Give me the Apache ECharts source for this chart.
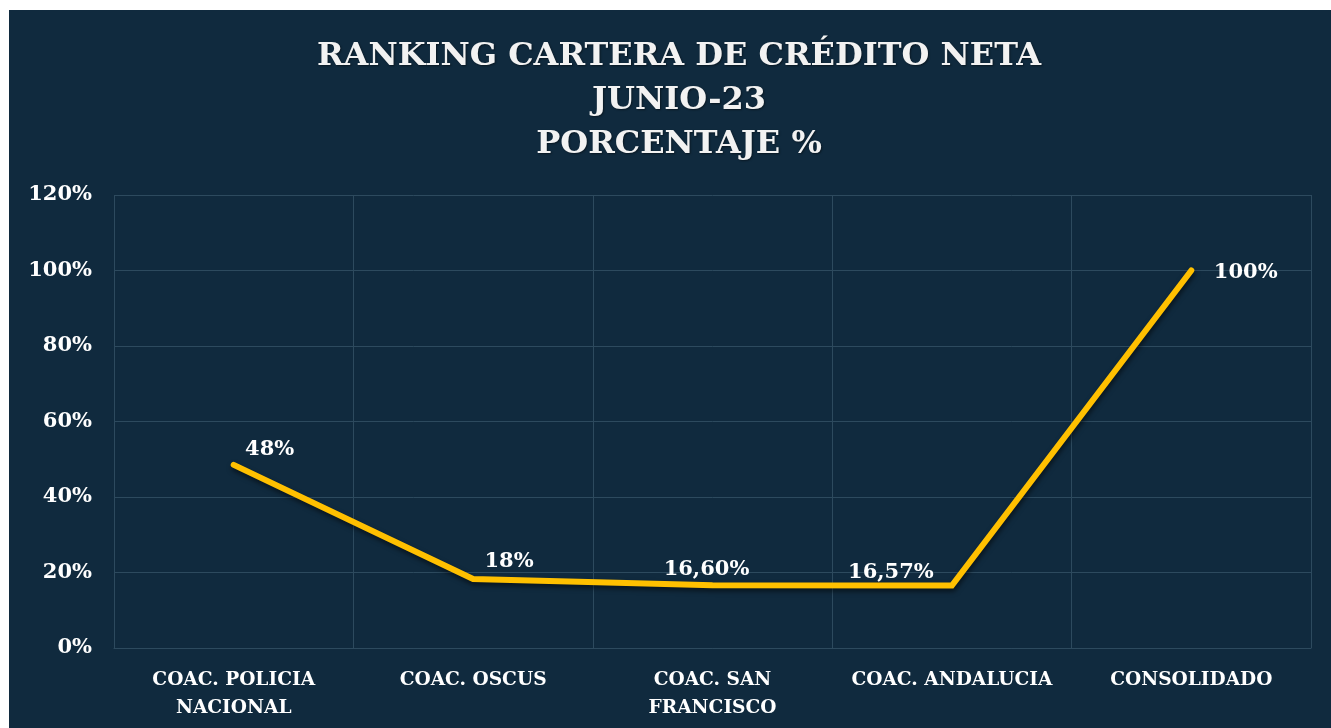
<!DOCTYPE html>
<html><head><meta charset="utf-8">
<script src="https://cdn.jsdelivr.net/npm/echarts@6/dist/echarts.min.js"></script>
<style>
html,body{margin:0;padding:0;background:#ffffff;width:1331px;height:728px;overflow:hidden;}
#c{position:absolute;left:9px;top:10px;width:1322px;height:718px;}
</style></head>
<body><div id="c"></div>
<script>
const categories = ["COAC. POLICIA\nNACIONAL", "COAC. OSCUS", "COAC. SAN\nFRANCISCO", "COAC. ANDALUCIA", "CONSOLIDADO"];
const values = [48.5, 18.3, 16.60, 16.57, 100];
const valueLabels = ["48%", "18%", "16,60%", "16,57%", "100%"];
const titleText = "RANKING CARTERA DE CRÉDITO NETA\nJUNIO-23\nPORCENTAJE %";

const FONT = "DejaVu Serif";
const labelCfg = [
  {position:'top', offset:[36,1]},
  {position:'top', offset:[36,-1]},
  {position:'top', offset:[-6,0]},
  {position:'top', offset:[-61,3]},
  {position:'right', distance:22, offset:[0,2]}
];
const chart = echarts.init(document.getElementById('c'));
chart.setOption({
  backgroundColor:'#102a3e',
  animation:false,
  title:{
    text:titleText, left:665, top:20, textAlign:'center',
    textStyle:{color:'#f2f2f2', fontFamily:FONT, fontWeight:'bold', fontSize:32, lineHeight:44,
      textShadowColor:'rgba(0,0,0,0.45)', textShadowBlur:2, textShadowOffsetX:1, textShadowOffsetY:1}
  },
  grid:{left:105, right:20, top:185, bottom:80, containLabel:false},
  xAxis:{
    type:'category', data:categories, boundaryGap:true,
    axisLine:{show:true, lineStyle:{color:'#2d4a5e', width:1}},
    axisTick:{show:false},
    splitLine:{show:true, lineStyle:{color:'#2d4a5e', width:1}},
    axisLabel:{color:'#ffffff', fontFamily:FONT, fontWeight:'bold', fontSize:18.6, lineHeight:28, margin:18, interval:0}
  },
  yAxis:{
    type:'value', min:0, max:120, interval:20,
    axisLine:{show:false}, axisTick:{show:false},
    splitLine:{lineStyle:{color:'#2d4a5e', width:1}},
    axisLabel:{formatter:'{value}%', color:'#ffffff', fontFamily:FONT, fontWeight:'bold', fontSize:21, margin:22}
  },
  series:[{
    type:'line', symbol:'circle', symbolSize:1, showSymbol:true,
    itemStyle:{color:'rgba(0,0,0,0)', borderWidth:0},
    data: values.map((v,i)=>({value:v, label:Object.assign({show:true, formatter:valueLabels[i]}, labelCfg[i])})),
    lineStyle:{color:'#ffc000', width:6, cap:'round', join:'miter',
      shadowColor:'rgba(0,0,0,0.55)', shadowBlur:5, shadowOffsetX:1, shadowOffsetY:3},
    label:{show:true, color:'#ffffff', fontFamily:FONT, fontWeight:'bold', fontSize:21}
  }]
});
</script></body></html>
